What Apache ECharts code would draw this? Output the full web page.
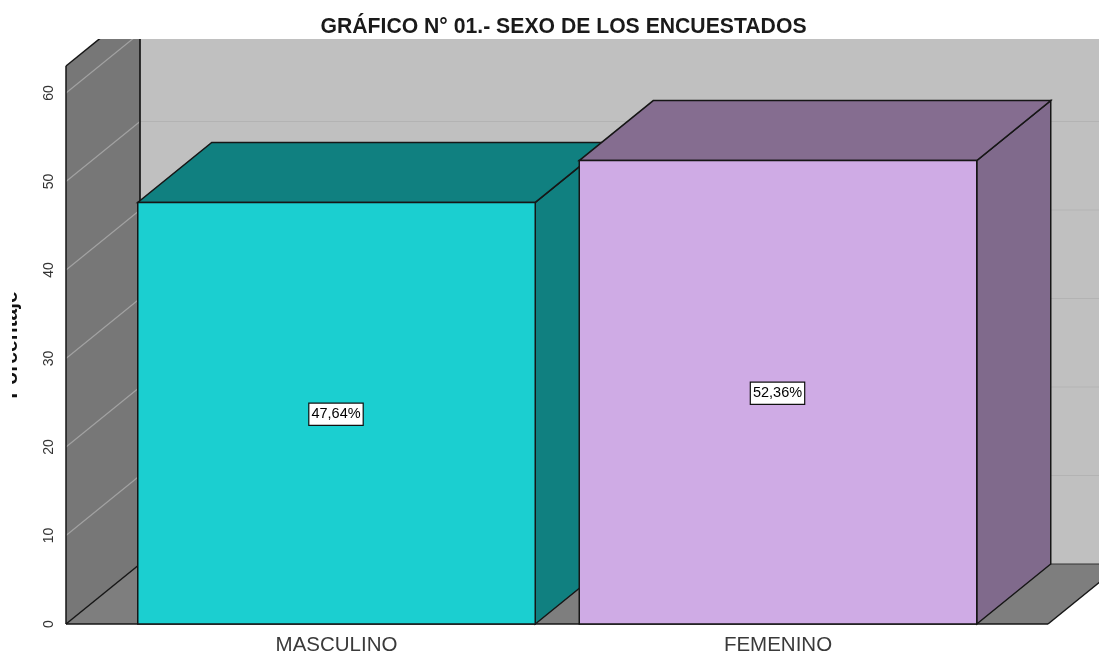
<!DOCTYPE html>
<html>
<head>
<meta charset="utf-8">
<style>html,body{margin:0;padding:0;background:#fff}#c{width:1099px;height:655px}</style>
<script src="https://cdn.jsdelivr.net/npm/echarts@6/dist/echarts.min.js"></script>
</head>
<body>
<div id="c"></div>
<script>
const categories = ['MASCULINO', 'FEMENINO'];
const values = [47.64, 52.36];
const valueLabels = ['47,64%', '52,36%'];
const frontColors = ['#1bcfd0', '#cfabe5'];
const topColors = ['#108080', '#856d90'];
const sideColors = ['#108080', '#806a8c'];
const yTicks = [0, 10, 20, 30, 40, 50, 60];

const DX = 74, DY = -60, BAR_W = 397.5, EDGE = '#161616';
const WALL_L = 66, WALL_R = 1048, CLIP_TOP = 39;
const Y_MAX = 63.05;

const chart = echarts.init(document.getElementById('c'));

function poly(points, fill, z2) {
  return { type: 'polygon', shape: { points }, z2: z2 || 0,
    style: { fill, stroke: EDGE, lineWidth: 1.5, lineJoin: 'miter' } };
}
function line(x1, y1, x2, y2, stroke, w, z2) {
  return { type: 'line', shape: { x1, y1, x2, y2 }, z2: z2 || 1, style: { stroke, lineWidth: w, fill: null } };
}

function renderWalls(params, api) {
  const y0 = api.coord([0, 0])[1];
  const yTop = api.coord([0, Y_MAX])[1];
  const children = [];
  // back wall
  children.push({ type: 'polygon', z2: 0,
    shape: { points: [[WALL_L + DX, yTop + DY], [WALL_R + DX, yTop + DY], [WALL_R + DX, y0 + DY], [WALL_L + DX, y0 + DY]] },
    style: { fill: '#c0c0c0', stroke: null } });
  // left wall
  children.push({ type: 'polygon', z2: 0,
    shape: { points: [[WALL_L, y0], [WALL_L + DX, y0 + DY], [WALL_L + DX, yTop + DY], [WALL_L, yTop]] },
    style: { fill: '#777777', stroke: null } });
  // floor
  children.push({ type: 'polygon', z2: 0,
    shape: { points: [[WALL_L, y0], [WALL_R, y0], [WALL_R + DX, y0 + DY], [WALL_L + DX, y0 + DY]] },
    style: { fill: '#7e7e7e', stroke: null } });
  // grid lines
  yTicks.slice(1).forEach(t => {
    const y = api.coord([0, t])[1];
    children.push(line(WALL_L, y, WALL_L + DX, y + DY, '#a2a2a2', 1.2));
    children.push(line(WALL_L + DX, y + DY, WALL_R + DX, y + DY, '#b3b3b3', 1.2));
  });
  // wall edges
  children.push(line(WALL_L, yTop, WALL_L + DX, yTop + DY, EDGE, 1.5, 2));
  children.push(line(WALL_L, yTop, WALL_L, y0, EDGE, 1.5, 2));
  children.push(line(WALL_L + DX, yTop + DY, WALL_L + DX, y0 + DY, EDGE, 1.7, 2));
  children.push(line(WALL_L, y0, WALL_L + DX, y0 + DY, EDGE, 1.5, 2));
  children.push(line(WALL_L + DX, y0 + DY, WALL_R + DX, y0 + DY, '#333333', 1, 2));
  children.push(line(WALL_R, y0, WALL_R + DX, y0 + DY, EDGE, 1.5, 2));
  children.push(line(WALL_L, y0, WALL_R, y0, EDGE, 1.7, 2));
  return { type: 'group', children,
    clipPath: { type: 'rect', shape: { x: 0, y: CLIP_TOP, width: 1099, height: 655 - CLIP_TOP } } };
}

function renderBar(params, api) {
  const i = api.value(0), v = api.value(1);
  const c = api.coord([i, v]), b = api.coord([i, 0]);
  const l = c[0] - BAR_W / 2, r = c[0] + BAR_W / 2, t = c[1], y0 = b[1];
  return { type: 'group', children: [
    poly([[r, t], [r + DX, t + DY], [r + DX, y0 + DY], [r, y0]], sideColors[i], 1),
    poly([[l, t], [r, t], [r + DX, t + DY], [l + DX, t + DY]], topColors[i], 2),
    poly([[l, t], [r, t], [r, y0], [l, y0]], frontColors[i], 3)
  ] };
}

function renderLabel(params, api) {
  const i = api.value(0), v = api.value(1);
  const c = api.coord([i, v / 2]);
  return { type: 'text', z2: 10, x: c[0] - 0.5, y: c[1] + 1,
    style: { text: valueLabels[i], align: 'center', verticalAlign: 'middle',
      font: '14.5px "Liberation Sans", Arial, sans-serif', fill: '#000',
      backgroundColor: '#fff', borderColor: '#111', borderWidth: 1.2, padding: [3, 2, 3, 2] } };
}

const barData = categories.map((c, i) => [i, values[i]]);

chart.setOption({
  animation: false,
  backgroundColor: '#fff',
  title: { text: 'GRÁFICO N° 01.- SEXO DE LOS ENCUESTADOS', left: 558.5, top: 12, textAlign: 'center',
    textStyle: { fontFamily: '"Liberation Sans", Arial, sans-serif', fontSize: 21.2, fontWeight: 'bold', color: '#1a1a1a' } },
  grid: { left: 115.75, width: 883, top: 66, height: 558, containLabel: false, outerBoundsMode: 'none' },
  xAxis: { type: 'category', data: categories, boundaryGap: true,
    axisLine: { show: false }, axisTick: { show: false }, splitLine: { show: false },
    axisLabel: { margin: 11, fontSize: 20.5, color: '#3a3a3a', fontFamily: '"Liberation Sans", Arial, sans-serif' } },
  yAxis: { type: 'value', min: 0, max: Y_MAX, interval: 10, offset: 49.75,
    axisLine: { show: false }, axisTick: { show: false }, splitLine: { show: false },
    axisLabel: { rotate: 90, margin: 10, fontSize: 14, color: '#333', showMinLabel: true, showMaxLabel: false,
      fontFamily: '"Liberation Sans", Arial, sans-serif' },
    name: 'Porcentaje', nameLocation: 'middle', nameRotate: 90, nameGap: 44,
    nameTextStyle: { fontSize: 21, fontWeight: 'bold', color: '#111', fontFamily: '"Liberation Sans", Arial, sans-serif' } },
  graphic: [{ type: 'rect', z: 100, shape: { x: 0, y: 250, width: 12, height: 190 }, style: { fill: '#fff' } }],
  series: [
    { type: 'custom', z: 1, data: [[0, 0]], renderItem: renderWalls, silent: true },
    { type: 'custom', z: 2, data: barData, encode: { x: 0, y: 1 }, renderItem: renderBar },
    { type: 'custom', z: 3, data: barData, encode: { x: 0, y: 1 }, renderItem: renderLabel }
  ]
});
</script>
</body>
</html>
